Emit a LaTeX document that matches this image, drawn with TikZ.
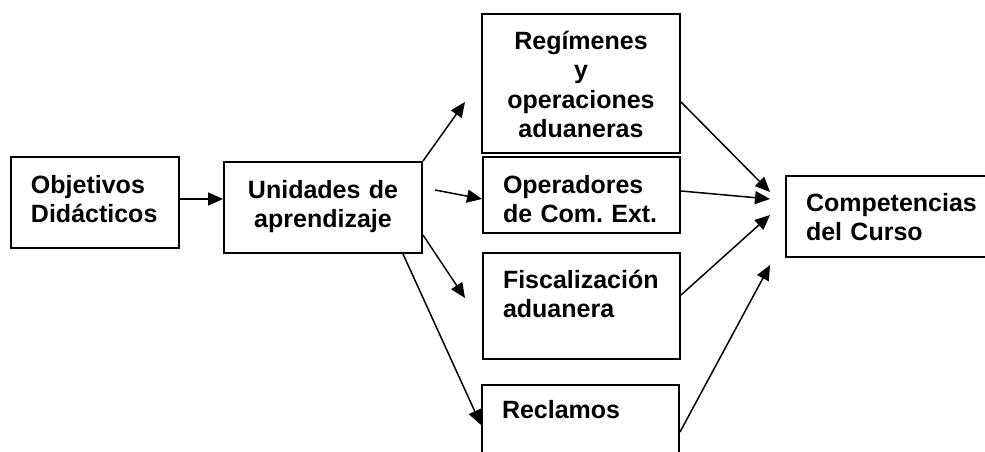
\documentclass[tikz,border=0pt]{standalone}
\usepackage{fontspec}
\setmainfont{Liberation Sans}
\usepackage{tikz}
\usetikzlibrary{arrows.meta}
\frenchspacing
\tikzstyle{unitbox} = [
    draw=black,
    line width=2pt,
    anchor=north west,
    inner ysep=0pt,
    font=\fontsize{25}{29.5}\selectfont\bfseries
    ]
\tikzstyle{leftbox} = [
    unitbox,
    align=left,
    inner xsep=0pt,
    execute at begin node={\leftskip=20pt}
    ]
\tikzstyle{flowarrow} = [
    draw=black,
    line width=1.5pt,
    -{Triangle[length=15pt,width=13pt]}
    ]

\begin{document}
\begin{tikzpicture}[x=1pt,y=-1pt]
\useasboundingbox (0,0) rectangle (985,452);
\clip (0,0) rectangle (985,452);

\node[leftbox, text width=168pt,
      text height=36pt, text depth=55pt] (obj) at (10,156) {Objetivos\\Didácticos};
\node[unitbox, align=center, inner xsep=6pt, text width=186pt,
      text height=36pt, text depth=55pt] (unid) at (223,161) {Unidades de\\aprendizaje};
\node[unitbox, align=center, inner xsep=6pt, text width=186pt,
      text height=35pt, text depth=104pt] (reg) at (481,13) {Regímenes\\y\\operaciones\\aduaneras};
\node[leftbox, text width=197pt,
      text height=36pt, text depth=40pt] (oper) at (482,156) {Operadores\\de Com. Ext.};
\node[leftbox, text width=197pt,
      text height=35pt, text depth=71pt] (fisc) at (482,252) {Fiscalización\\aduanera};
\node[leftbox, text width=197pt,
      text height=33pt, text depth=60pt] (recl) at (481,384) {Reclamos};
\node[leftbox, text width=230pt,
      text height=35pt, text depth=46pt] (comp) at (785,175) {Competencias\\del Curso};

\coordinate (regtip) at (465,102);
\coordinate (opertail) at (435,190);
\coordinate (fisctip) at (465,298);
\coordinate (comptipa) at (770,192);
\coordinate (comptipb) at (770,199);
\coordinate (comptipc) at (770,215);
\coordinate (comptipd) at (770,265);

\draw[flowarrow] ([yshift=3.5pt]obj.east) -- ([yshift=3.5pt]obj.east -| unid.west);
\draw[flowarrow] (unid.north east) -- (regtip);
\draw[flowarrow] (opertail) -- (oper.west |- 0,199);
\draw[flowarrow] (unid.east |- 0,235) -- (fisctip);
\draw[flowarrow] (unid.south -| 403,0) -- (recl.west |- 0,425);

\draw[flowarrow] (reg.east |- 0,102) -- (comptipa);
\draw[flowarrow] (oper.east |- 0,191) -- (comptipb);
\draw[flowarrow] (fisc.east |- 0,295) -- (comptipc);
\draw[flowarrow] (recl.east |- 0,432) -- (comptipd);
\end{tikzpicture}
\end{document}
